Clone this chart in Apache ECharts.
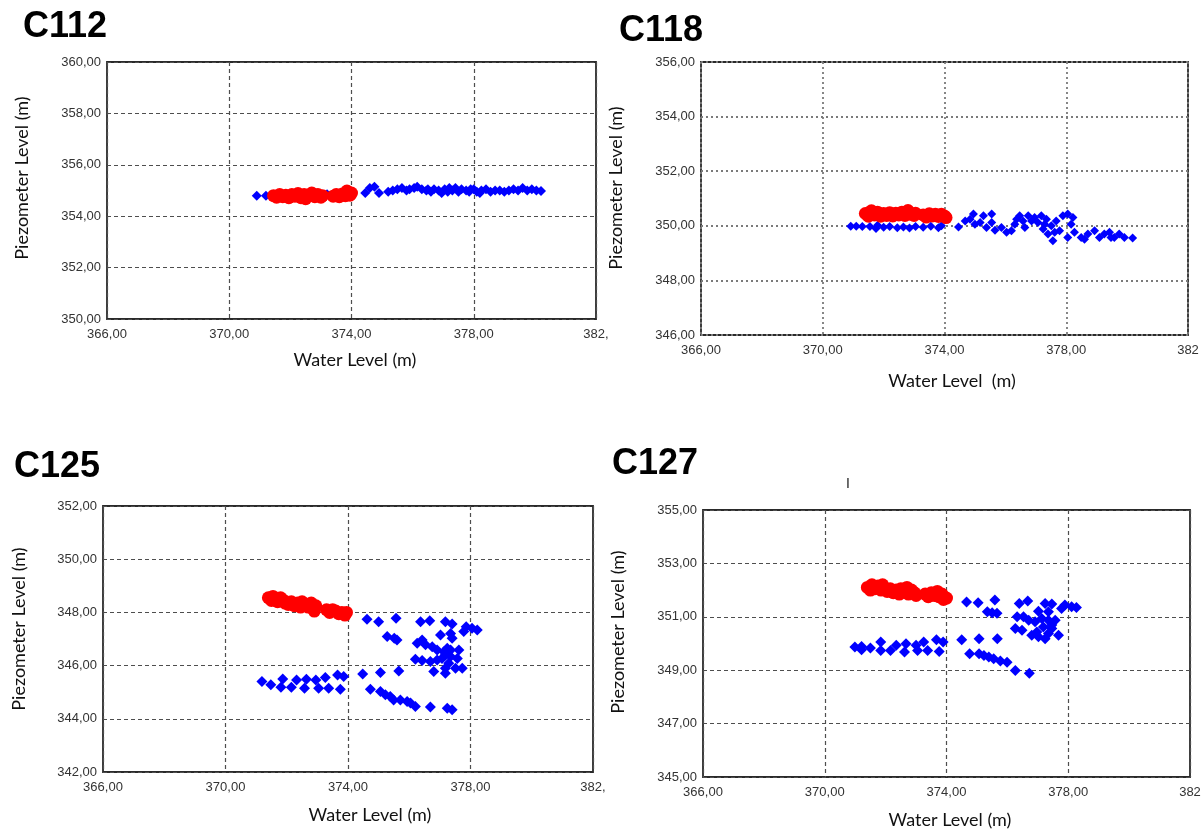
<!DOCTYPE html>
<html>
<head>
<meta charset="utf-8">
<script src="https://cdn.jsdelivr.net/npm/echarts@6/dist/echarts.min.js"></script>
<style>
html,body{margin:0;padding:0;background:#fff;}
#chart{width:1204px;height:832px;}
</style>
</head>
<body>
<div id="chart"></div>
<script>
// ---------------- data ----------------
var panelNames = ['C112', 'C118', 'C125', 'C127'];
var xRange = [366, 382];
var xInterval = 4;
var yRanges = [[350, 360], [346, 356], [342, 352], [345, 355]];
var yInterval = 2;
var xTitles = ['Water Level (m)', 'Water Level  (m)', 'Water Level (m)', 'Water Level (m)'];
var yTitle = 'Piezometer Level (m)';

var c112Blue = [
  [370.9,354.8],[371.2,354.8],[371.5,354.75],[371.8,354.75],[372.3,354.7],[372.8,354.75],[373.2,354.85],[373.5,354.8],[373.9,354.85],
  [374.45,354.9],[374.6,355.1],[374.75,355.15],[374.9,354.9],[375.2,354.95],[375.35,355.0],[375.5,355.05],[375.65,355.1],[375.8,355.0],
  [375.9,355.05],[376.05,355.1],[376.15,355.15],[376.3,355.05],[376.45,355.0],[376.5,355.05],[376.6,354.95],[376.7,355.05],[376.85,355.0],
  [376.95,354.9],[377.05,355.05],[377.15,354.95],[377.2,355.1],[377.3,355.0],[377.4,355.1],[377.5,354.95],[377.6,355.05],[377.75,355.0],
  [377.85,354.95],[377.9,355.05],[378.0,355.05],[378.1,354.95],[378.2,354.9],[378.25,355.0],[378.4,355.05],[378.55,354.95],[378.7,355.0],
  [378.85,355.0],[379.0,354.95],[379.15,355.0],[379.3,355.05],[379.45,355.0],[379.6,355.1],[379.75,355.0],[379.9,355.05],[380.05,355.0],[380.2,354.98]
];
var c112Red = [
  [371.45,354.8],[371.55,354.74],[371.65,354.84],[371.75,354.76],[371.85,354.82],[371.95,354.72],[372.05,354.84],[372.15,354.78],
  [372.25,354.88],[372.35,354.72],[372.45,354.84],[372.5,354.68],[372.6,354.8],[372.7,354.9],[372.8,354.76],[372.9,354.84],[373.0,354.74],[373.05,354.8],
  [373.4,354.78],[373.5,354.84],[373.6,354.76],[373.7,354.86],[373.8,354.8],[373.85,354.98],[373.9,354.92],[373.95,354.82],[374.0,354.9]
];

var c118Blue = [
  [370.92,349.98],[371.1,349.98],[371.3,349.97],[371.55,349.97],[371.75,349.9],[371.8,350.02],[372.0,349.95],[372.2,349.97],[372.45,349.93],
  [372.65,349.96],[372.85,349.92],[373.05,349.97],[373.3,349.95],[373.55,349.98],[373.8,349.93],[373.9,350.0],
  [374.46,349.96],[374.68,350.18],[374.84,350.24],[374.95,350.43],[375.0,350.06],[375.17,350.12],[375.28,350.37],[375.38,349.94],
  [375.55,350.43],[375.55,350.12],[375.66,349.84],[375.87,349.94],[376.04,349.76],[376.2,349.82],[376.31,350.06],[376.37,350.24],
  [376.47,350.37],[376.58,350.18],[376.64,349.94],[376.75,350.37],[376.86,350.18],[376.96,350.3],[377.07,350.12],[377.18,350.37],
  [377.24,349.88],[377.29,350.06],[377.35,350.24],[377.4,349.7],[377.51,350.0],[377.56,349.45],[377.62,349.76],[377.67,350.18],
  [377.78,349.82],[377.89,350.37],[378.05,350.43],[378.05,349.57],[378.16,350.06],[378.22,350.3],[378.27,349.76],[378.49,349.57],
  [378.6,349.51],[378.71,349.7],[378.93,349.82],[379.09,349.57],[379.25,349.7],[379.42,349.76],[379.47,349.57],[379.58,349.57],
  [379.74,349.7],[379.91,349.57],[380.18,349.55]
];
var c118Red = [
  [371.4,350.45],[371.5,350.35],[371.6,350.55],[371.7,350.4],[371.8,350.5],[371.9,350.35],[372.0,350.45],[372.1,350.38],
  [372.2,350.48],[372.3,350.36],[372.4,350.46],[372.5,350.4],[372.6,350.5],[372.7,350.38],[372.8,350.56],[372.9,350.42],[373.0,350.38],[373.05,350.46],
  [373.3,350.4],[373.4,350.32],[373.5,350.44],[373.6,350.36],[373.7,350.42],[373.8,350.34],[373.9,350.42],[374.0,350.36],[374.05,350.3]
];

var c125Blue = [
  [371.19,345.4],[371.48,345.28],[371.81,345.19],[371.87,345.5],[372.15,345.19],[372.32,345.46],[372.58,345.15],[372.64,345.49],
  [372.95,345.46],[373.04,345.15],[373.26,345.55],[373.37,345.15],[373.66,345.65],[373.75,345.11],[373.86,345.59],
  [374.48,345.68],[374.73,345.11],[375.06,345.74],[375.06,345.03],[375.22,344.9],[375.38,344.84],[375.49,344.71],[375.66,345.8],
  [375.71,344.71],[375.93,344.65],[376.04,344.59],[376.2,344.46],[376.69,344.44],[377.24,344.4],[377.4,344.34],
  [374.62,347.74],[375.0,347.65],[375.57,347.78],[375.28,347.09],[375.51,347.03],[375.6,346.96],[376.37,347.65],[376.67,347.69],
  [377.18,347.65],[377.4,347.56],[377.02,347.15],[377.35,347.21],[377.4,347.03],[377.78,347.28],[377.86,347.46],[378.05,347.4],[378.22,347.34],
  [376.26,346.84],[376.42,346.96],[376.53,346.78],[376.75,346.71],[376.91,346.59],[377.13,346.52],[377.24,346.65],[377.35,346.59],[377.62,346.59],
  [376.2,346.24],[376.42,346.19],[376.69,346.15],[376.91,346.21],[377.07,346.27],[377.18,346.4],[377.29,346.09],[377.35,346.34],[377.57,346.27],
  [377.18,345.9],[376.8,345.78],[377.51,345.9],[377.73,345.9],[377.18,345.71]
];
var c125Red = [
  [371.4,348.55],[371.5,348.45],[371.55,348.6],[371.65,348.5],[371.7,348.4],[371.8,348.55],[371.9,348.45],[371.95,348.35],
  [372.05,348.3],[372.15,348.4],[372.25,348.25],[372.35,348.35],[372.45,348.2],[372.5,348.4],[372.6,348.3],[372.7,348.2],
  [372.8,348.35],[372.85,348.15],[372.9,348.05],[372.95,348.25],
  [373.3,348.1],[373.4,348.0],[373.5,348.1],[373.6,348.05],[373.7,347.95],[373.8,348.0],[373.9,347.9],[373.95,348.0]
];

var c127Blue = [
  [370.99,349.87],[371.21,349.89],[371.21,349.77],[371.5,349.83],[371.84,350.06],[371.84,349.74],[372.16,349.74],[372.35,349.93],
  [372.62,349.68],[372.67,349.99],[373.0,349.93],[373.05,349.74],[373.25,350.06],[373.38,349.74],[373.67,350.14],[373.76,349.7],[373.89,350.06],
  [374.5,350.14],[374.76,349.62],[375.07,350.18],[375.07,349.62],[375.23,349.55],[375.39,349.49],[375.55,349.43],[375.67,350.18],
  [375.77,349.34],[375.99,349.3],[376.26,348.99],[376.72,348.89],
  [374.66,351.55],[375.04,351.53],[375.59,351.63],[375.34,351.19],[375.5,351.15],[375.66,351.13],[376.39,351.5],[376.67,351.59],
  [377.02,351.21],[377.24,351.5],[377.46,351.48],[377.35,351.19],[377.78,351.31],[377.89,351.44],[378.11,351.38],[378.27,351.35],
  [376.32,351.0],[376.53,351.0],[376.7,350.87],[376.91,350.81],[377.13,350.94],[377.35,350.87],[377.57,350.87],
  [376.26,350.56],[376.48,350.5],[376.8,350.31],[376.97,350.43],[377.18,350.62],[377.35,350.37],[377.46,350.56],[377.68,350.31],
  [377.24,350.18],[377.46,350.69],[377.02,350.25]
];
var c127Red = [
  [371.4,352.1],[371.5,352.0],[371.55,352.2],[371.65,352.05],[371.75,352.15],[371.85,352.0],[371.9,352.2],[371.95,352.05],
  [372.05,351.95],[372.15,352.05],[372.25,351.9],[372.35,352.0],[372.45,351.85],[372.5,352.05],[372.6,351.95],[372.7,352.1],
  [372.75,351.85],[372.85,352.0],[372.95,351.9],[373.0,351.8],
  [373.3,351.85],[373.4,351.75],[373.5,351.9],[373.6,351.8],[373.7,351.95],[373.75,351.75],[373.85,351.85],[373.9,351.65],[374.0,351.7]
];

var blueSets = [c112Blue, c118Blue, c125Blue, c127Blue];
var redSets = [c112Red, c118Red, c125Red, c127Red];

// ---------------- layout / style ----------------
var grids = [
  {left:107, top:62, width:489, height:257},
  {left:701, top:62, width:487, height:273},
  {left:103, top:506, width:490, height:266},
  {left:703, top:510, width:487, height:267}
];
var splitTypes = [[4,3],[2,3],[4,3],[4,3]];
var splitColors = ['#4e4e4e','#7a7a7a','#4e4e4e','#4e4e4e'];
var splitWidths = [1.2,1.8,1.2,1.2];
var xMaxText = ['382,', '382', '382,', '382'];
var blueSizes = [10, 9, 11, 11];
var redSizes = [13, 13, 13, 13];

function fmt(v){ return v.toFixed(2).replace('.', ','); }

var labelFont = {fontFamily:'"Liberation Sans", Arial, sans-serif', fontSize:13, color:'#333'};

var option = {
  animation:false,
  backgroundColor:'#fff',
  grid: grids.map(function(g){
    return {left:g.left, top:g.top, width:g.width, height:g.height, show:true,
      borderColor:'#2a2a2a', borderWidth:1.8, backgroundColor:'transparent', containLabel:false};
  }),
  xAxis: grids.map(function(g,i){
    return {type:'value', gridIndex:i, min:xRange[0], max:xRange[1], interval:xInterval,
      axisLine:{show:false}, axisTick:{show:false},
      axisLabel:Object.assign({margin:9, showMinLabel:true, showMaxLabel:true,
        formatter:function(v){ return v === xRange[1] ? xMaxText[i] : fmt(v); }}, labelFont),
      splitLine:{show:true, lineStyle:{type:splitTypes[i], color:splitColors[i], width:splitWidths[i]}}
    };
  }),
  yAxis: grids.map(function(g,i){
    return {type:'value', gridIndex:i, min:yRanges[i][0], max:yRanges[i][1], interval:yInterval,
      axisLine:{show:false}, axisTick:{show:false},
      axisLabel:Object.assign({margin:6, showMinLabel:true, showMaxLabel:true,
        formatter:function(v){ return fmt(v); }}, labelFont),
      splitLine:{show:true, lineStyle:{type:splitTypes[i], color:splitColors[i], width:splitWidths[i]}}
    };
  }),
  series: []
};

for (var i = 0; i < 4; i++) {
  option.series.push({type:'scatter', xAxisIndex:i, yAxisIndex:i, data:blueSets[i],
    symbol:'diamond', symbolSize:blueSizes[i], itemStyle:{color:'#0000ff', opacity:1}, z:2});
  option.series.push({type:'scatter', xAxisIndex:i, yAxisIndex:i, data:redSets[i],
    symbol:'circle', symbolSize:redSizes[i], itemStyle:{color:'#ff0000', opacity:1}, z:3});
}

// text placement
var titlePos = [[23,27],[619,31],[14,467],[612,464]];
var xTitlePos = [[355,360],[952,381],[370,815],[950,820]];
var yTitlePos = [[22,178],[616,188],[19,629],[618,632]];
var graphics = [];
function txt(str, x, y, font, align, rot, fill){
  return {type:'text', x:x, y:y, rotation:rot||0, silent:true,
    style:{text:str, font:font, fill:fill||'#111', align:align, textAlign:align,
      verticalAlign:'middle', textVerticalAlign:'middle'}};
}
for (var k = 0; k < 4; k++) {
  graphics.push(txt(panelNames[k], titlePos[k][0], titlePos[k][1], 'bold 36px "Liberation Sans", Arial, sans-serif', 'left', 0, '#000'));
  graphics.push(txt(xTitles[k], xTitlePos[k][0], xTitlePos[k][1], '18px Lato, "Open Sans", sans-serif', 'center', 0, '#111'));
  graphics.push(txt(yTitle, yTitlePos[k][0], yTitlePos[k][1], '18px Lato, "Open Sans", sans-serif', 'center', Math.PI/2, '#111'));
}
graphics.push(txt('I', 848, 484, '14px "Liberation Sans", Arial, sans-serif', 'center', 0, '#222'));
option.graphic = {elements: graphics};

var chart = echarts.init(document.getElementById('chart'), null, {renderer:'canvas'});
chart.setOption(option);
</script>
</body>
</html>
